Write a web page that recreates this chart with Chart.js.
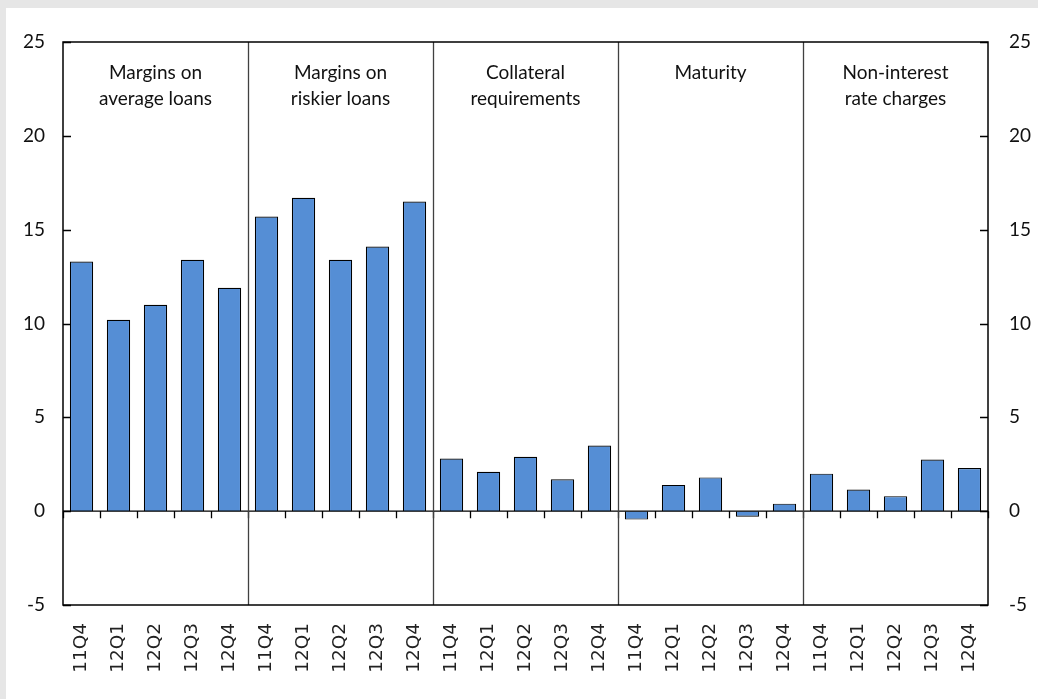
<!DOCTYPE html>
<html>
<head>
<meta charset="utf-8">
<script src="https://cdn.jsdelivr.net/npm/chart.js@4.4.1/dist/chart.umd.min.js"></script>
<style>
  html, body { margin: 0; padding: 0; background: #e6e6e6; }
  #wrap { position: absolute; left: 6px; top: 8px; width: 1032px; height: 691px; background: #fff; }
</style>
</head>
<body>
<div id="wrap"><canvas id="chart" width="1032" height="691"></canvas></div>
<script>
// quarters shown under each panel
const quarters = ['11Q4', '12Q1', '12Q2', '12Q3', '12Q4']

// panel titles
const groupTitles = [
  ['Margins on', 'average loans'],
  ['Margins on', 'riskier loans'],
  ['Collateral', 'requirements'],
  ['Maturity'],
  ['Non-interest', 'rate charges']
]

// values per panel
const avgLoans = [13.3, 10.2, 11.0, 13.4, 11.9]
const riskierLoans = [15.7, 16.7, 13.4, 14.1, 16.5]
const collateral = [2.8, 2.1, 2.9, 1.7, 3.5]
const maturity = [-0.45, 1.4, 1.8, -0.3, 0.4]
const nonInterest = [2.0, 1.15, 0.8, 2.75, 2.3]

const yMin = -5
const yMax = 25
const yStep = 5

const panels = [avgLoans, riskierLoans, collateral, maturity, nonInterest]
const labels = panels.flatMap(() => quarters)
const values = panels.flat()

const textFont = 'Lato'

// frame, inner ticks, zero line, panel separators and titles
const panelPlugin = {
  id: 'panels',
  afterDatasetsDraw(chart) {
    const { ctx, chartArea: a, scales } = chart
    const x = scales.x
    const y = scales.y
    const step = x.getPixelForValue(1) - x.getPixelForValue(0)
    const y0 = y.getPixelForValue(0)
    ctx.save()
    ctx.strokeStyle = '#000'
    ctx.lineWidth = 1.3

    // y ticks pointing inward on both sides
    for (let v = yMin; v <= yMax; v += yStep) {
      const py = Math.round(y.getPixelForValue(v)) + 0.5
      ctx.beginPath()
      ctx.moveTo(a.left, py)
      ctx.lineTo(a.left + 8, py)
      ctx.moveTo(a.right, py)
      ctx.lineTo(a.right - 8, py)
      ctx.stroke()
    }

    // zero line with category ticks below it
    ctx.beginPath()
    ctx.moveTo(a.left, y0)
    ctx.lineTo(a.right, y0)
    for (let i = 0; i <= labels.length; i++) {
      const px = Math.round(x.getPixelForValue(0) - step / 2 + i * step) + 0.5
      ctx.moveTo(px, y0)
      ctx.lineTo(px, y0 + 7)
    }
    ctx.stroke()

    // separators between panels
    ctx.strokeStyle = '#404040'
    ctx.beginPath()
    for (let g = 1; g < panels.length; g++) {
      const px = Math.round(x.getPixelForValue(g * quarters.length) - step / 2) + 0.5
      ctx.moveTo(px, a.top)
      ctx.lineTo(px, a.bottom)
    }
    ctx.stroke()

    // frame
    ctx.strokeStyle = '#000'
    ctx.lineWidth = 1.5
    ctx.strokeRect(a.left, a.top, a.right - a.left, a.bottom - a.top)

    // panel titles
    ctx.fillStyle = '#111'
    ctx.font = '19px ' + textFont
    ctx.textAlign = 'center'
    ctx.textBaseline = 'middle'
    groupTitles.forEach((lines, g) => {
      const cx = x.getPixelForValue(g * quarters.length + 2)
      lines.forEach((t, k) => {
        ctx.fillText(t, cx, a.top + 31 + k * 26)
      })
    })
    ctx.restore()
  }
}

const ctx = document.getElementById('chart')

new Chart(ctx, {
  type: 'bar',
  data: {
    labels: labels,
    datasets: [{
      data: values,
      backgroundColor: '#558ed5',
      borderColor: '#000',
      borderWidth: 1.2,
      barPercentage: 0.63,
      categoryPercentage: 1,
      yAxisID: 'y'
    }]
  },
  options: {
    responsive: false,
    animation: false,
    layout: { padding: { top: 34, left: 0, right: 0, bottom: 0 } },
    plugins: {
      legend: { display: false },
      tooltip: { enabled: false }
    },
    scales: {
      x: {
        grid: { display: false, drawTicks: false },
        border: { display: false },
        ticks: {
          color: '#222',
          font: { family: 'DejaVu Sans', size: 18.5 },
          minRotation: 90,
          maxRotation: 90,
          autoSkip: false,
          padding: 18
        },
        afterFit(scale) { scale.height = 94 }
      },
      y: {
        position: 'left',
        min: yMin,
        max: yMax,
        grid: { display: false, drawTicks: false },
        border: { display: false },
        ticks: {
          stepSize: yStep,
          color: '#111',
          font: { family: textFont, size: 19 },
          padding: 18
        },
        afterFit(scale) { scale.width = 57 }
      },
      y2: {
        position: 'right',
        display: true,
        min: yMin,
        max: yMax,
        grid: { display: false, drawTicks: false },
        border: { display: false },
        ticks: {
          stepSize: yStep,
          color: '#111',
          font: { family: textFont, size: 19 },
          padding: 21
        },
        afterFit(scale) { scale.width = 50 }
      }
    }
  },
  plugins: [panelPlugin]
})
</script>
</body>
</html>
